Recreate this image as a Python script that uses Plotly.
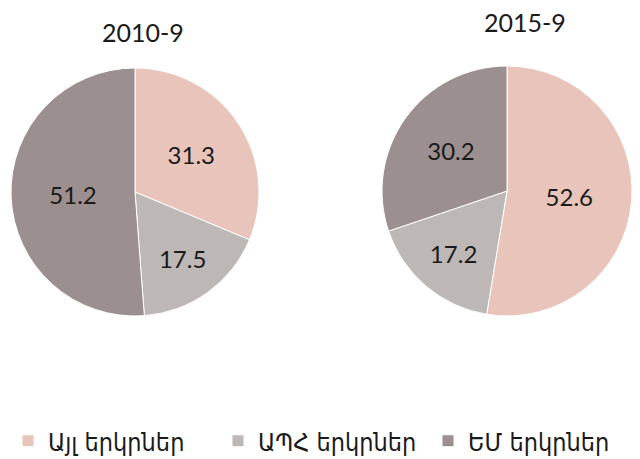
import plotly.graph_objects as go

labels = ["Այլ երկրներ", "ԱՊՀ երկրներ", "ԵՄ երկրներ"]
shares_2010 = [31.3, 17.5, 51.2]
shares_2015 = [52.6, 17.2, 30.2]
colors = ["#E8C4BA", "#BDB7B6", "#9C8F90"]

W, H = 640, 459
OFF = 8  # page body margin shifts the figure by 8px


def dom(cx, cy, r):
    # screen pixel center/radius -> paper domain
    cx, cy = cx - OFF, cy - OFF
    return dict(x=[(cx - r) / W, (cx + r) / W],
                y=[(H - cy - r) / H, (H - cy + r) / H])


fig = go.Figure()
for vals, d in [(shares_2010, dom(135, 192, 124)), (shares_2015, dom(507, 191, 125))]:
    fig.add_trace(go.Pie(
        labels=labels, values=vals, sort=False, direction="clockwise",
        marker=dict(colors=colors, line=dict(color="white", width=1)),
        textinfo="value", textposition="inside", insidetextorientation="horizontal",
        textfont=dict(size=24, color="#1a1a1a", family="Lato, DejaVu Sans"),
        domain=d, hoverinfo="label+value",
    ))

title_font = dict(size=25, color="#1a1a1a", family="Lato, DejaVu Sans")
fig.add_annotation(text="2010-9", x=(143 - OFF) / W, y=1 - (32 - OFF) / H, xref="paper", yref="paper",
                   xanchor="center", yanchor="middle", showarrow=False, font=title_font)
fig.add_annotation(text="2015-9", x=(525 - OFF) / W, y=1 - (22 - OFF) / H, xref="paper", yref="paper",
                   xanchor="center", yanchor="middle", showarrow=False, font=title_font)

fig.update_layout(
    width=W, height=H,
    margin=dict(l=0, r=0, t=0, b=0, autoexpand=False),
    paper_bgcolor="white",
    showlegend=True,
    legend=dict(orientation="h", x=0, xanchor="left", y=(H - (441 - OFF)) / H, yanchor="middle",
                entrywidth=165, entrywidthmode="pixels",
                font=dict(size=25, color="#1a1a1a", family="DejaVu Sans Condensed, DejaVu Sans"),
                bgcolor="rgba(0,0,0,0)"),
)

fig.write_html("out.html")
